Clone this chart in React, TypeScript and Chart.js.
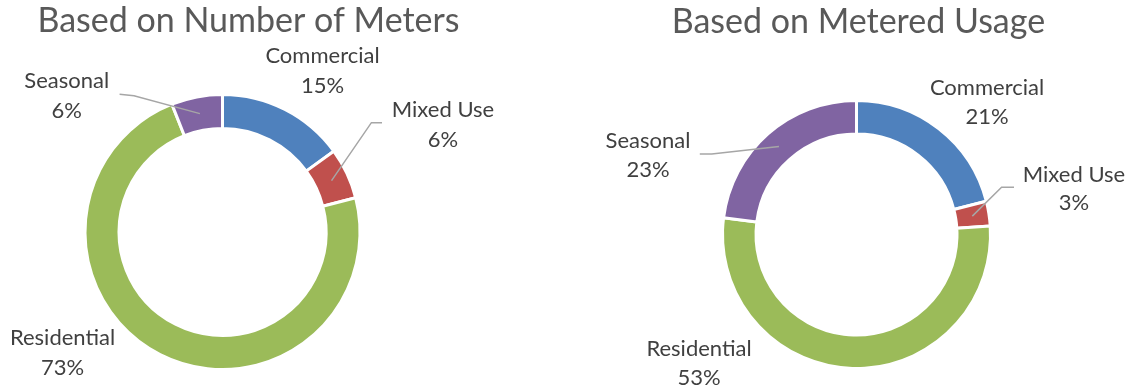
import React, { useEffect, useRef } from "react";
import { Chart, registerables } from "chart.js";

Chart.register(...registerables);

// ---- data ----
const categories = ["Commercial", "Mixed Use", "Residential", "Seasonal"];
const metersShare = [15, 6, 73, 6];
const usageShare = [21, 3, 53, 23];
const sliceColors = ["#4F81BD", "#C0504D", "#9BBB59", "#8064A2"];
const chartTitles = ["Based on Number of Meters", "Based on Metered Usage"];

// ---- layout (page coordinates) ----
const FONT = "Lato, 'Open Sans', sans-serif";
const TITLE_SIZE = 34;
const LABEL_SIZE = 22;

type LabelLayout = { cx: number; y: number; leader?: [number, number][] };
type PanelLayout = {
  left: number;
  width: number;
  center: [number, number];
  radius: number;
  cutout: string;
  title: { cx: number; y: number };
  lineGap: number;
  labels: LabelLayout[];
};

const panels: PanelLayout[] = [
  {
    left: 0,
    width: 565,
    center: [222.5, 232],
    radius: 137.5,
    cutout: "75.3%",
    title: { cx: 248.5, y: 32 },
    lineGap: 30,
    labels: [
      { cx: 322.5, y: 63.3 },
      { cx: 443, y: 116.7, leader: [[382, 122.7], [371.4, 122.7]] },
      { cx: 62.5, y: 345 },
      { cx: 66.7, y: 88.3, leader: [[119.6, 94.3], [134, 95.7]] },
    ],
  },
  {
    left: 565,
    width: 565,
    center: [856.5, 234.5],
    radius: 134,
    cutout: "75%",
    title: { cx: 858.4, y: 33.3 },
    lineGap: 28.7,
    labels: [
      { cx: 987, y: 95 },
      { cx: 1074, y: 181.7, leader: [[1014, 187.3], [1001.6, 187.3]] },
      { cx: 699, y: 356 },
      { cx: 648, y: 148.3, leader: [[699.8, 154], [711.7, 154]] },
    ],
  },
];

function makeLabelPlugin(panel: PanelLayout, title: string) {
  return {
    id: "donutLabels",
    afterDraw(chart: any) {
      const ctx: CanvasRenderingContext2D = chart.ctx;
      const ox = panel.left;
      const meta = chart.getDatasetMeta(0);
      const values: number[] = chart.data.datasets[0].data;
      const total = values.reduce((a, b) => a + b, 0);
      ctx.save();
      // title
      ctx.fillStyle = "#595959";
      ctx.font = `${TITLE_SIZE}px ${FONT}`;
      ctx.textAlign = "center";
      ctx.textBaseline = "alphabetic";
      ctx.fillText(title, panel.title.cx - ox, panel.title.y);
      // leader lines
      ctx.strokeStyle = "#A6A6A6";
      ctx.lineWidth = 1.5;
      panel.labels.forEach((lab, i) => {
        if (!lab.leader) return;
        const arc = meta.data[i];
        const p = arc.getCenterPoint();
        ctx.beginPath();
        ctx.moveTo(lab.leader[0][0] - ox, lab.leader[0][1]);
        for (let k = 1; k < lab.leader.length; k++) ctx.lineTo(lab.leader[k][0] - ox, lab.leader[k][1]);
        ctx.lineTo(p.x, p.y);
        ctx.stroke();
      });
      // labels
      ctx.fillStyle = "#404040";
      ctx.font = `${LABEL_SIZE}px ${FONT}`;
      panel.labels.forEach((lab, i) => {
        const name = chart.data.labels[i];
        const pct = Math.round((values[i] / total) * 100) + "%";
        ctx.fillText(name, lab.cx - ox, lab.y);
        ctx.fillText(pct, lab.cx - ox, lab.y + panel.lineGap);
      });
      ctx.restore();
    },
  };
}

function Donut({ panel, values, title }: { panel: PanelLayout; values: number[]; title: string }) {
  const ref = useRef<HTMLCanvasElement | null>(null);
  useEffect(() => {
    if (!ref.current) return;
    const half = panel.radius + 3;
    const cx = panel.center[0] - panel.left;
    const cy = panel.center[1];
    const chart = new Chart(ref.current, {
      type: "doughnut",
      data: {
        labels: categories,
        datasets: [
          {
            data: values,
            backgroundColor: sliceColors,
            borderColor: "#FFFFFF",
            borderWidth: 3,
            hoverOffset: 0,
          },
        ],
      },
      options: {
        responsive: false,
        animation: false,
        devicePixelRatio: 1,
        radius: panel.radius,
        cutout: panel.cutout,
        layout: {
          padding: {
            left: cx - half,
            right: panel.width - (cx + half),
            top: cy - half,
            bottom: 392 - (cy + half),
          },
        },
        plugins: {
          legend: { display: false },
          tooltip: { enabled: false },
          title: { display: false },
        },
      },
      plugins: [makeLabelPlugin(panel, title)],
    } as any);
    return () => chart.destroy();
  }, [panel, values, title]);
  return (
    <canvas
      ref={ref}
      width={panel.width}
      height={392}
      style={{ position: "absolute", left: panel.left, top: 0, width: panel.width, height: 392 }}
    />
  );
}

export default function App() {
  return (
    <div style={{ position: "absolute", left: 0, top: 0, width: 1130, height: 392, background: "#FFFFFF", overflow: "hidden" }}>
      <Donut panel={panels[0]} values={metersShare} title={chartTitles[0]} />
      <Donut panel={panels[1]} values={usageShare} title={chartTitles[1]} />
    </div>
  );
}
